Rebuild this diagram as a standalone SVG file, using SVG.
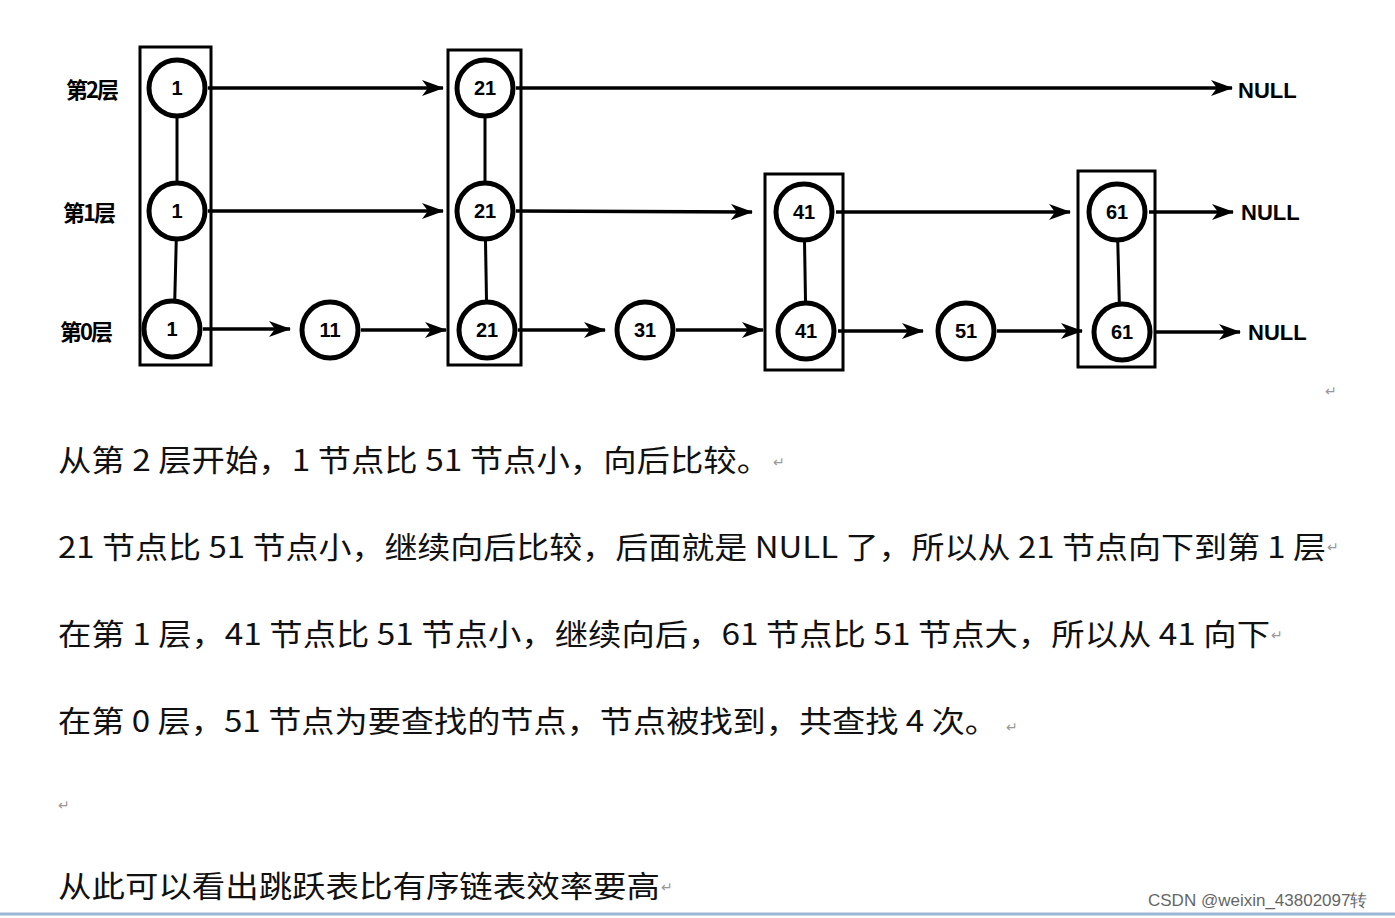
<svg xmlns="http://www.w3.org/2000/svg" width="1395" height="918" viewBox="0 0 1395 918">
<defs>
<marker id="ah" markerWidth="22" markerHeight="16" refX="21" refY="8" orient="auto" markerUnits="userSpaceOnUse" viewBox="0 0 22 16"><path d="M0,0 L22,8 L0,16 L6,8 Z" fill="#000"/></marker>
<style>
.c{fill:#fff;stroke:#000;stroke-width:5}
.b{fill:none;stroke:#000;stroke-width:3}
.v{stroke:#000;stroke-width:3}
.n{font-family:"Liberation Sans",Arial,sans-serif;font-weight:bold;font-size:20px;text-anchor:middle;dominant-baseline:central}
.lay{font-family:"Noto Sans CJK SC",sans-serif;font-weight:bold;font-size:22px;letter-spacing:-2px;dominant-baseline:central}
.nl{font-family:"Liberation Sans",Arial,sans-serif;font-weight:bold;font-size:22px;dominant-baseline:central}
.a{stroke:#000;stroke-width:3.5;marker-end:url(#ah)}
.t{font-family:"Noto Sans CJK SC",sans-serif;font-size:30px;fill:#111}
.r{font-family:"Liberation Sans",sans-serif;font-size:14px;fill:#999}
</style>
</defs>
<rect width="1395" height="918" fill="#fff"/>
<g id="labels">
<text class="lay" x="66" y="88">第2层</text>
<text class="lay" x="63" y="211">第1层</text>
<text class="lay" x="60" y="330">第0层</text>
</g>
<g id="boxes">
<rect class="b" x="140" y="47" width="71" height="318"/>
<rect class="b" x="448" y="50" width="73" height="315"/>
<rect class="b" x="765" y="174" width="78" height="196"/>
<rect class="b" x="1078" y="171" width="77" height="196"/>
<line class="v" x1="177" y1="88" x2="177" y2="211"/><line class="v" x1="177" y1="211" x2="174" y2="330"/>
<line class="v" x1="485" y1="88" x2="485" y2="211"/><line class="v" x1="485" y1="211" x2="487" y2="330"/>
<line class="v" x1="804" y1="211" x2="806" y2="330"/>
<line class="v" x1="1117" y1="211" x2="1120" y2="330"/>
</g>
<g id="connectors">
<line class="a" x1="208" y1="88" x2="443" y2="88"/>
<line class="a" x1="516" y1="88" x2="1232" y2="88"/>
<line class="a" x1="208" y1="211" x2="443" y2="211"/>
<line class="a" x1="516" y1="211" x2="752" y2="212"/>
<line class="a" x1="836" y1="212" x2="1070" y2="212"/>
<line class="a" x1="1149" y1="212" x2="1233" y2="212"/>
<line class="a" x1="203" y1="329" x2="290" y2="329"/>
<line class="a" x1="361" y1="330" x2="446" y2="330"/>
<line class="a" x1="518" y1="330" x2="605" y2="330"/>
<line class="a" x1="676" y1="330" x2="763" y2="330"/>
<line class="a" x1="838" y1="331" x2="923" y2="331"/>
<line class="a" x1="997" y1="331" x2="1082" y2="331"/>
<line class="a" x1="1154" y1="332" x2="1240" y2="332"/>
</g>
<g id="n2_1"><circle class="c" cx="177" cy="88" r="28"/><text class="n" x="177" y="88">1</text></g>
<g id="n2_21"><circle class="c" cx="485" cy="88" r="28"/><text class="n" x="485" y="88">21</text></g>
<g id="n1_1"><circle class="c" cx="177" cy="211" r="28"/><text class="n" x="177" y="211">1</text></g>
<g id="n1_21"><circle class="c" cx="485" cy="211" r="28"/><text class="n" x="485" y="211">21</text></g>
<g id="n1_41"><circle class="c" cx="804" cy="212" r="28"/><text class="n" x="804" y="212">41</text></g>
<g id="n1_61"><circle class="c" cx="1117" cy="212" r="28"/><text class="n" x="1117" y="212">61</text></g>
<g id="n0_1"><circle class="c" cx="172" cy="329" r="28"/><text class="n" x="172" y="329">1</text></g>
<g id="n0_11"><circle class="c" cx="330" cy="330" r="28"/><text class="n" x="330" y="330">11</text></g>
<g id="n0_21"><circle class="c" cx="487" cy="330" r="28"/><text class="n" x="487" y="330">21</text></g>
<g id="n0_31"><circle class="c" cx="645" cy="330" r="28"/><text class="n" x="645" y="330">31</text></g>
<g id="n0_41"><circle class="c" cx="806" cy="331" r="28"/><text class="n" x="806" y="331">41</text></g>
<g id="n0_51"><circle class="c" cx="966" cy="331" r="28"/><text class="n" x="966" y="331">51</text></g>
<g id="n0_61"><circle class="c" cx="1122" cy="332" r="28"/><text class="n" x="1122" y="332">61</text></g>
<g id="nulls">
<text class="nl" x="1238" y="90">NULL</text>
<text class="nl" x="1241" y="212">NULL</text>
<text class="nl" x="1248" y="332">NULL</text>
</g>
<g id="text">
<text class="t" x="58" y="471" textLength="712" lengthAdjust="spacingAndGlyphs">从第 2 层开始，1 节点比 51 节点小，向后比较。</text>
<text class="t" x="58" y="558" textLength="1268" lengthAdjust="spacingAndGlyphs">21 节点比 51 节点小，继续向后比较，后面就是 NULL 了，所以从 21 节点向下到第 1 层</text>
<text class="t" x="58" y="645" textLength="1212" lengthAdjust="spacingAndGlyphs">在第 1 层，41 节点比 51 节点小，继续向后，61 节点比 51 节点大，所以从 41 向下</text>
<text class="t" x="58" y="732" textLength="940" lengthAdjust="spacingAndGlyphs">在第 0 层，51 节点为要查找的节点，节点被找到，共查找 4 次。</text>
<text class="t" x="58" y="897" textLength="602" lengthAdjust="spacingAndGlyphs">从此可以看出跳跃表比有序链表效率要高</text>
<text class="r" x="1325" y="396">↵</text><text class="r" x="773" y="467">↵</text><text class="r" x="1327" y="552">↵</text><text class="r" x="1271" y="640">↵</text><text class="r" x="1006" y="732">↵</text><text class="r" x="58" y="810">↵</text><text class="r" x="661" y="892">↵</text>
<text x="1148" y="906" style="font-family:'Liberation Sans',sans-serif;font-size:17px;fill:#666">CSDN @weixin_43802097转</text>
</g>
<line x1="0" y1="914" x2="1395" y2="914" stroke="#9bb7d4" stroke-width="3"/>
</svg>
